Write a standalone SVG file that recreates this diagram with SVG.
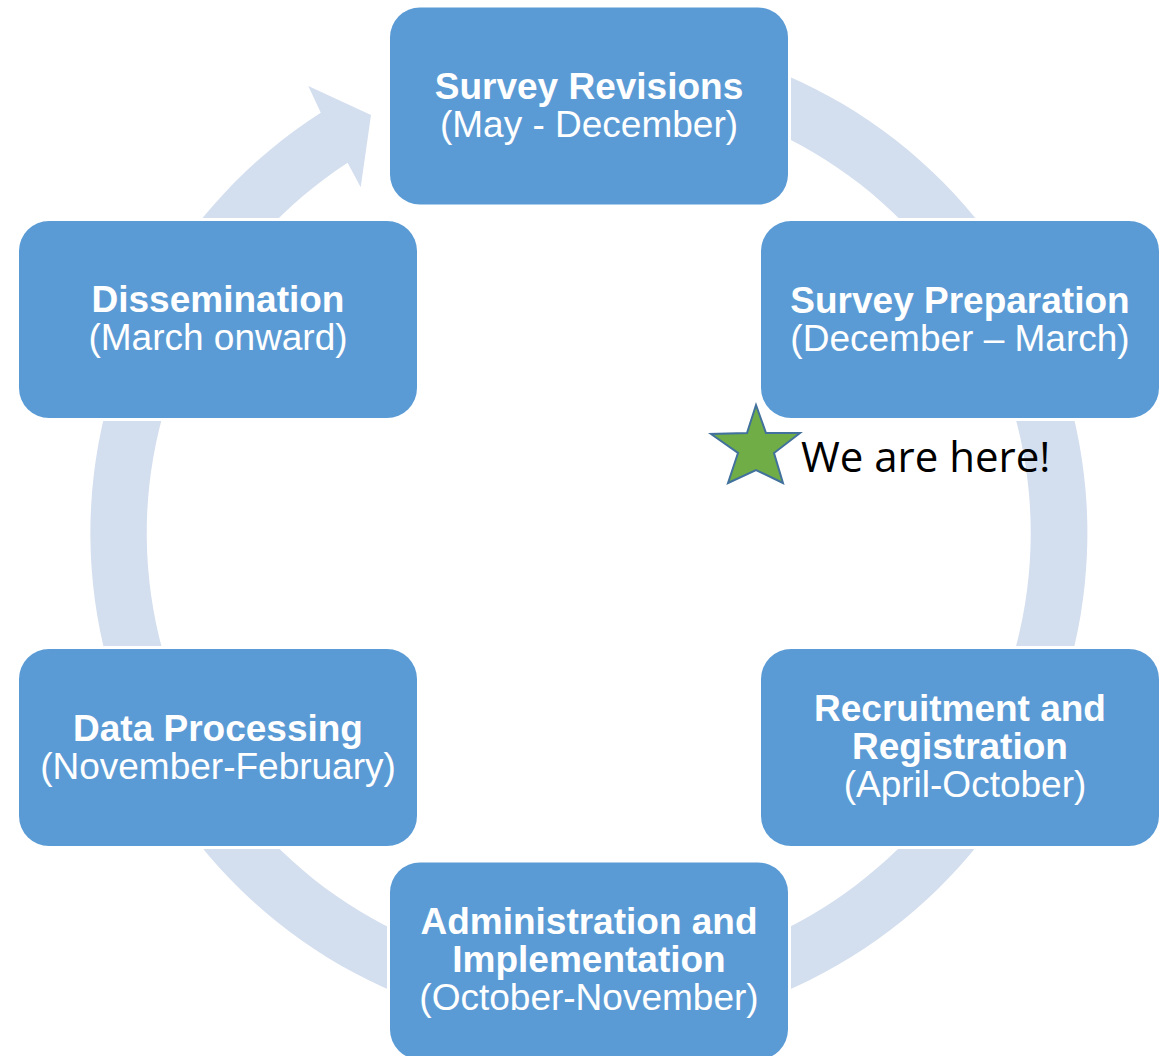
<svg xmlns="http://www.w3.org/2000/svg" width="1166" height="1056" viewBox="0 0 1166 1056">
  <style>
    .pad { fill: #FFFFFF; }
    .box { fill: #5B9BD5; }
    .ring { fill: #D3DEEF; }
    .t { font-family: "Liberation Sans", Arial, sans-serif; font-size: 37px; fill: #FFFFFF; text-anchor: middle; }
    .b { font-weight: bold; }
    .note { font-family: "Open Sans", "Noto Sans", sans-serif; font-size: 42px; fill: #000000; }
  </style>
  <rect width="1166" height="1056" fill="#FFFFFF"/>
  <g id="connectors">
    <path class="ring" d="M 418.5 64.6 A 498.5 498.5 0 1 1 320.8 112.8 L 308.3 86 L 371 115 L 360.7 187.3 L 347.6 162.7 A 442 442 0 1 0 437.8 117.7 Z"/>
  </g>
  <g id="node-survey-revisions">
    <rect class="pad" x="387" y="4.5" width="404" height="203" rx="33"/>
    <rect class="box" x="390" y="7.5" width="398" height="197" rx="30"/>
    <text class="t b" x="589" y="99">Survey Revisions</text>
    <text class="t" x="589" y="137">(May - December)</text>
  </g>
  <g id="node-survey-preparation">
    <rect class="pad" x="758" y="218" width="404" height="203" rx="33"/>
    <rect class="box" x="761" y="221" width="398" height="197" rx="30"/>
    <text class="t b" x="960" y="312.5">Survey Preparation</text>
    <text class="t" x="960" y="350.5">(December – March)</text>
  </g>
  <g id="node-recruitment">
    <rect class="pad" x="758" y="646" width="404" height="203" rx="33"/>
    <rect class="box" x="761" y="649" width="398" height="197" rx="30"/>
    <text class="t b" x="960" y="721">Recruitment and</text>
    <text class="t b" x="960" y="759">Registration</text>
    <text class="t" x="965" y="797">(April-October)</text>
  </g>
  <g id="node-administration">
    <rect class="pad" x="387" y="859.5" width="404" height="203" rx="33"/>
    <rect class="box" x="390" y="862.5" width="398" height="197" rx="30"/>
    <text class="t b" x="589" y="934">Administration and</text>
    <text class="t b" x="589" y="972">Implementation</text>
    <text class="t" x="589" y="1010">(October-November)</text>
  </g>
  <g id="node-data-processing">
    <rect class="pad" x="16" y="646" width="404" height="203" rx="33"/>
    <rect class="box" x="19" y="649" width="398" height="197" rx="30"/>
    <text class="t b" x="218" y="740.5">Data Processing</text>
    <text class="t" x="218" y="778.5">(November-February)</text>
  </g>
  <g id="node-dissemination">
    <rect class="pad" x="16" y="218" width="404" height="203" rx="33"/>
    <rect class="box" x="19" y="221" width="398" height="197" rx="30"/>
    <text class="t b" x="218" y="312">Dissemination</text>
    <text class="t" x="218" y="350">(March onward)</text>
  </g>
  <g id="we-are-here">
    <polygon points="756,405 766,433 800,433 774,453 783,483 756,470 728,483 738,453 711,434 747,433" fill="#70AD47" stroke="#41719C" stroke-width="2" stroke-linejoin="miter"/>
    <text class="note" x="801" y="472">We are here!</text>
  </g>
</svg>
